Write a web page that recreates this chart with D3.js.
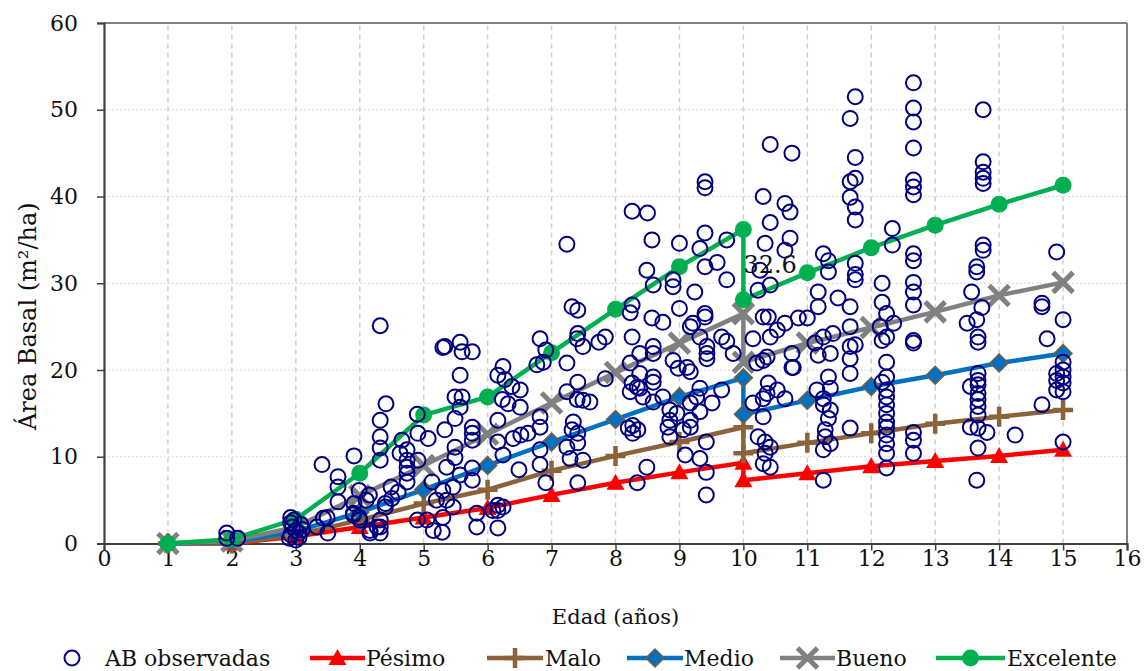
<!DOCTYPE html>
<html>
<head>
<meta charset="utf-8">
<script src="https://cdn.jsdelivr.net/npm/d3@7"></script>
<style>
  body { margin: 0; background: #fff; }
  svg { display: block; }
  text { font-family: "DejaVu Serif", serif; fill: #111; }
</style>
</head>
<body>
<div id="chart"></div>
<script>
// modelled curves, per age (10 appears twice: the curves jump there)
const ages      = [1, 2, 3, 4, 5, 6, 7, 8, 9, 10, 10, 11, 12, 13, 14, 15];
const pesimo    = [0, 0, 0.8, 1.9, 3.0, 4.1, 5.6, 7.0, 8.2, 9.3, 7.3, 8.1, 8.9, 9.5, 10.1, 10.8];
const malo      = [0, 0, 1.0, 2.7, 4.6, 6.2, 8.4, 10.1, 11.7, 13.4, 10.4, 11.6, 12.7, 13.8, 14.6, 15.4];
const medio     = [0, 0.2, 1.4, 3.6, 6.2, 9.0, 11.7, 14.3, 16.9, 19.1, 14.9, 16.5, 18.1, 19.4, 20.8, 21.9];
const bueno     = [0, 0.3, 1.9, 5.5, 9.0, 12.6, 16.2, 19.7, 23.1, 26.5, 20.9, 23.1, 24.9, 26.7, 28.6, 30.1];
const excelente = [0, 0.5, 2.8, 8.1, 14.8, 16.9, 22.0, 27.0, 31.9, 36.2, 28.1, 31.2, 34.1, 36.7, 39.1, 41.3];

// AB observadas: [edad, area basal]
const abObservadas = [
  [1.92,1.2],[1.92,0.6],[2.09,0.6],
  [2.92,3.0],[2.92,2.4],[2.95,1.9],[3.0,1.5],[2.92,1.0],[3.05,0.7],[3.0,0.4],[3.08,2.2],[3.05,1.2],[2.9,0.6],[3.1,1.6],[2.97,2.7],
  [3.41,9.1],[3.66,7.7],[3.66,6.5],[3.66,4.8],[3.49,3.0],[3.5,1.2],[3.33,1.9],[3.43,2.9],
  [3.91,10.1],[3.99,6.1],[4.15,5.6],[3.91,4.6],[3.99,3.0],[3.9,3.5],[4.16,1.5],[4.27,1.9],[4.32,2.7],[4.4,4.2],
  [4.49,6.5],[4.4,4.6],[4.5,5.2],[4.32,1.2],[4.0,2.7],[4.1,5.0],[4.16,1.2],[4.32,1.9],[3.9,3.3],
  [4.32,25.1],[4.41,16.1],[4.32,14.2],[4.32,12.3],[4.32,11.0],[4.32,9.6],
  [4.66,11.9],[4.74,10.8],[4.74,9.6],[4.74,8.8],[4.74,8.1],[4.74,7.1],[4.6,5.9],[4.63,10.4],
  [4.9,14.9],[4.91,12.7],[5.07,12.1],[4.91,9.6],[4.9,2.7],[5.05,2.7],[5.15,1.5],[5.2,5.0],[5.13,7.1],
  [5.3,22.6],[5.57,23.2],[5.76,22.1],[5.6,22.1],[5.33,22.7],[5.57,19.4],[5.49,16.9],[5.6,16.9],[5.57,15.7],
  [5.49,14.4],[5.33,13.1],[5.76,13.4],[5.76,12.7],[5.76,11.9],[5.49,11.1],[5.49,9.9],[5.76,8.7],[5.76,7.3],
  [5.57,7.9],[5.36,8.8],[5.46,6.5],[5.3,6.1],[5.36,5.0],[5.46,4.2],[5.3,3.0],[5.29,1.3],[5.83,3.5],[5.83,1.9],
  [6.16,4.4],[6.16,3.8],[6.24,4.2],[6.16,1.8],[6.08,3.8],
  [6.49,8.5],[6.52,12.5],[6.63,12.7],[6.4,12.1],[6.24,10.2],[6.16,11.7],[6.16,14.2],[6.16,19.4],[6.24,20.4],
  [6.27,18.9],[6.38,18.1],[6.51,17.7],[6.51,15.7],[6.32,16.1],[6.23,16.6],
  [7.24,34.5],[7.32,27.3],[7.41,26.9],[6.82,23.6],[6.91,22.3],[6.77,20.6],[6.87,20.9],[7.24,20.8],[7.41,24.2],
  [7.4,23.6],[7.49,22.7],[7.74,23.2],[7.84,23.8],[7.41,18.6],[7.24,17.5],[7.4,16.6],[7.49,16.5],[7.6,16.3],
  [7.84,19.0],[6.82,14.6],[6.82,13.4],[7.34,14.0],[7.32,13.1],[7.41,12.7],[7.41,11.6],[7.24,11.1],[7.29,9.8],
  [7.49,9.6],[6.82,10.8],[6.82,9.1],[6.91,7.0],[7.41,7.0],
  [8.26,38.3],[8.5,38.1],[8.57,35.0],[9.0,34.6],[9.32,34.0],[9.4,35.8],[9.74,35.0],[9.59,32.4],[9.4,31.9],
  [8.9,30.4],[8.9,29.6],[8.49,31.5],[8.59,29.8],[9.24,29.0],[9.74,30.4],[9.0,27.1],[8.26,27.5],[8.23,26.6],
  [8.57,26.0],[8.74,25.5],[8.26,23.8],[8.59,22.7],[8.59,21.9],[8.38,21.9],[8.23,20.8],[8.38,19.6],[8.26,18.5],
  [8.23,17.5],[8.38,17.9],[8.59,18.6],[8.59,19.2],[8.9,21.1],[8.98,20.2],[9.12,20.3],[9.17,19.8],[9.17,25.0],
  [9.21,25.4],[9.4,26.1],[9.4,26.5],[9.32,23.8],[9.43,22.7],[9.43,21.9],[9.43,21.3],[9.66,23.8],[9.74,23.3],
  [9.84,21.9],[9.66,17.7],[9.51,16.2],[9.32,17.9],[9.27,16.9],[9.17,16.2],[9.32,15.2],[9.17,14.2],[9.17,13.4],
  [9.06,13.1],[8.96,15.0],[8.85,15.4],[8.85,14.2],[8.82,13.4],[8.85,12.3],[8.74,16.9],[8.59,16.3],[8.43,16.9],
  [8.34,18.0],[8.27,13.6],[8.27,12.7],[8.2,13.3],[8.35,13.1],[8.49,8.8],[8.34,7.0],[9.09,10.2],[9.32,9.8],
  [9.42,8.2],[9.42,5.6],[9.42,11.7],[9.4,41.7],[9.4,41.0],
  [10.42,46.0],[10.76,45.0],[10.31,40.0],[10.42,37.0],[10.65,39.2],[10.73,38.2],[10.73,35.2],[10.34,34.6],
  [10.26,31.5],[10.42,29.8],[10.23,29.2],[10.65,33.8],[10.31,26.1],[10.39,26.1],[10.53,24.6],[10.42,23.8],
  [10.65,25.4],[10.15,23.6],[10.76,21.9],[10.76,20.3],[10.37,21.5],[10.31,21.1],[10.21,20.8],[10.39,18.5],
  [10.37,17.3],[10.31,16.7],[10.15,16.2],[10.53,17.7],[10.65,16.7],[10.31,14.6],[10.23,12.3],[10.34,11.7],
  [10.42,11.1],[10.34,10.4],[10.31,9.2],[10.42,8.8],[10.86,26.0],[10.78,20.3],
  [11.75,51.5],[11.67,49.0],[11.75,44.5],[11.67,41.7],[11.75,42.1],[11.67,39.9],[11.75,38.8],[11.75,37.3],
  [12.33,36.3],[12.33,34.4],[11.75,32.3],[11.75,31.0],[11.75,30.4],[11.25,33.4],[11.33,32.6],[11.33,31.3],
  [11.17,29.0],[11.17,27.3],[11.0,26.0],[11.48,28.3],[11.67,27.3],[11.67,25.0],[11.4,24.2],[11.25,23.8],
  [11.12,23.1],[11.36,21.9],[11.17,21.7],[11.67,22.7],[11.75,22.9],[11.67,21.3],[11.67,19.6],[11.33,19.2],
  [11.36,17.9],[11.15,17.7],[11.25,16.7],[11.25,16.0],[11.36,15.4],[11.33,14.4],[11.28,13.1],[11.28,12.3],
  [11.36,11.5],[11.25,10.8],[11.67,13.3],[11.25,7.3],
  [12.17,30.0],[12.17,27.8],[12.24,26.5],[12.35,25.4],[12.14,25.0],[12.24,23.8],[12.17,23.4],[12.24,20.9],
  [12.24,19.2],[12.17,18.6],[12.24,17.7],[12.24,16.9],[12.24,16.0],[12.24,15.0],[12.24,14.0],[12.24,13.4],
  [12.24,12.5],[12.24,11.5],[12.24,10.4],[12.24,8.7],
  [12.66,53.1],[12.66,50.2],[12.66,48.6],[12.66,45.6],[12.66,41.9],[12.66,41.1],[12.66,40.2],[12.66,33.4],
  [12.66,32.6],[12.66,30.1],[12.66,29.0],[12.66,27.5],[12.66,23.4],[12.66,23.1],[12.66,12.8],[12.66,11.9],[12.66,10.4],
  [13.75,50.0],[13.75,44.0],[13.75,42.8],[13.75,42.1],[13.75,41.5],[13.75,34.4],[13.75,33.8],[13.65,31.9],
  [13.65,31.3],[13.57,29.0],[13.73,27.2],[13.5,25.4],[13.65,25.8],[13.67,23.8],[13.67,23.2],[13.67,19.6],
  [13.67,18.8],[13.55,18.1],[13.67,18.3],[13.67,17.3],[13.67,16.6],[13.67,15.8],[13.67,14.8],[13.55,13.4],
  [13.67,13.3],[13.81,12.8],[13.67,11.0],[13.65,7.3],[14.25,12.5],
  [14.9,33.6],[14.67,27.7],[14.67,27.3],[15.0,25.8],[14.75,23.6],[14.9,19.6],[14.9,18.8],[15.0,20.9],
  [15.0,20.0],[15.0,19.2],[15.0,18.5],[14.9,17.7],[15.0,17.5],[14.67,16.0],[15.0,11.7]
];

const xTicks = d3.range(0, 17);
const yTicks = [0, 10, 20, 30, 40, 50, 60];
const saltoLabel = "32.6";

const width = 1144, height = 671;
const margin = {top: 23, right: 17, bottom: 127.5, left: 104};
const innerW = width - margin.left - margin.right;
const innerH = height - margin.top - margin.bottom;

const svg = d3.select("#chart").append("svg")
  .attr("width", width).attr("height", height);

const x = d3.scaleLinear().domain([0, 16]).range([margin.left, margin.left + innerW]);
const y = d3.scaleLinear().domain([0, 60]).range([margin.top + innerH, margin.top]);

// grid
const grid = svg.append("g");
grid.selectAll(".hg").data(yTicks.filter(d => d > 0 && d < 60)).join("line")
  .attr("x1", x(0)).attr("x2", x(16))
  .attr("y1", d => y(d)).attr("y2", d => y(d))
  .attr("stroke", "#d9d9d9").attr("stroke-width", 1.2).attr("stroke-dasharray", "2,2");
grid.selectAll(".vg").data(xTicks.filter(d => d > 0 && d < 16)).join("line")
  .attr("x1", d => x(d)).attr("x2", d => x(d))
  .attr("y1", y(0)).attr("y2", y(60))
  .attr("stroke", "#d0d0d0").attr("stroke-width", 1.5).attr("stroke-dasharray", "5,4");

// frame top / right
svg.append("line").attr("x1", x(0)).attr("x2", x(16)).attr("y1", y(60)).attr("y2", y(60))
  .attr("stroke", "#808080").attr("stroke-width", 2);
svg.append("line").attr("x1", x(16)).attr("x2", x(16)).attr("y1", y(60)).attr("y2", y(0))
  .attr("stroke", "#808080").attr("stroke-width", 2);

// axes
const xAxis = svg.append("g").attr("transform", `translate(0,${y(0)})`)
  .call(d3.axisBottom(x).tickValues(xTicks).tickSize(7).tickPadding(0).tickFormat(d3.format("d")));
const yAxis = svg.append("g").attr("transform", `translate(${x(0)},0)`)
  .call(d3.axisLeft(y).tickValues(yTicks).tickSize(7).tickPadding(19));
[xAxis, yAxis].forEach(a => {
  a.select(".domain").attr("stroke", "#404040").attr("stroke-width", 2.2);
  a.selectAll(".tick line").attr("stroke", "#404040").attr("stroke-width", 1.5);
  a.selectAll("text").style("font-family", "DejaVu Serif").style("font-size", "22px").attr("fill", "#111");
});

// axis titles
svg.append("text").attr("x", x(8)).attr("y", 624).attr("text-anchor", "middle")
  .style("font-size", "21px").text("Edad (años)");
svg.append("text").attr("transform", `translate(36,${y(26.2)}) rotate(-90)`).attr("text-anchor", "middle")
  .style("font-size", "24px").text("Área Basal (m²/ha)");

// series
const series = [
  {name: "Pésimo", values: pesimo, color: "#ff0000", marker: "triangle"},
  {name: "Malo", values: malo, color: "#8b6239", marker: "plus"},
  {name: "Medio", values: medio, color: "#0070c0", marker: "diamond"},
  {name: "Bueno", values: bueno, color: "#808080", marker: "cross"},
  {name: "Excelente", values: excelente, color: "#00b050", marker: "circle"}
];

const line = d3.line().x(d => x(d[0])).y(d => y(d[1]));

function drawMarker(g, kind, color) {
  if (kind === "triangle") {
    g.append("path").attr("d", "M0,-9 L9,7 L-9,7 Z").attr("fill", color);
  } else if (kind === "plus") {
    g.append("path").attr("d", "M-10,0 H10 M0,-10 V10").attr("stroke", color).attr("stroke-width", 4.5);
  } else if (kind === "diamond") {
    g.append("path").attr("d", "M0,-9 L9,0 L0,9 L-9,0 Z").attr("fill", "#0070c0")
      .attr("stroke", "#7a5c3c").attr("stroke-width", 1.5);
  } else if (kind === "cross") {
    g.append("path").attr("d", "M-10,-10 L10,10 M-10,10 L10,-10").attr("stroke", color).attr("stroke-width", 5);
  } else {
    g.append("circle").attr("r", 8.5).attr("fill", color);
  }
}

const sg = svg.append("g");
series.forEach(s => {
  const pts = ages.map((a, i) => [a, s.values[i]]);
  sg.append("path").datum(pts).attr("d", line)
    .attr("fill", "none").attr("stroke", s.color).attr("stroke-width", 4.5).attr("stroke-linejoin", "round");
  pts.forEach(p => {
    const g = sg.append("g").attr("transform", `translate(${x(p[0])},${y(p[1])})`);
    drawMarker(g, s.marker, s.color);
  });
});

// observed points
svg.append("g").selectAll("circle").data(abObservadas).join("circle")
  .attr("cx", d => x(d[0])).attr("cy", d => y(d[1])).attr("r", 7.5)
  .attr("fill", "none").attr("stroke", "#000080").attr("stroke-width", 2);

// label at the jump
svg.append("text").attr("x", x(10)).attr("y", y((36.2 + 28.1) / 2)).attr("dy", "0.35em")
  .style("font-size", "24px").attr("fill", "#111").text(saltoLabel);

// legend
const legY = 658;
const leg = svg.append("g");
const legItems = [
  {label: "AB observadas", x0: 72, text: 105, kind: "obs"},
  {label: "Pésimo", x0: 310, x1: 365, text: 366, s: series[0]},
  {label: "Malo", x0: 487, x1: 543, text: 545, s: series[1]},
  {label: "Medio", x0: 627, x1: 683, text: 684, s: series[2]},
  {label: "Bueno", x0: 780, x1: 835, text: 836, s: series[3]},
  {label: "Excelente", x0: 936, x1: 1005, text: 1007, s: series[4]}
];
legItems.forEach(it => {
  if (it.kind === "obs") {
    leg.append("circle").attr("cx", it.x0).attr("cy", legY).attr("r", 7.5)
      .attr("fill", "none").attr("stroke", "#000080").attr("stroke-width", 2);
  } else {
    leg.append("line").attr("x1", it.x0).attr("x2", it.x1).attr("y1", legY).attr("y2", legY)
      .attr("stroke", it.s.color).attr("stroke-width", 4.5);
    const g = leg.append("g").attr("transform", `translate(${(it.x0 + it.x1) / 2},${legY})`);
    drawMarker(g, it.s.marker, it.s.color);
  }
  leg.append("text").attr("x", it.text).attr("y", legY).attr("dy", "0.35em")
    .style("font-size", "22px").text(it.label);
});
</script>
</body>
</html>
